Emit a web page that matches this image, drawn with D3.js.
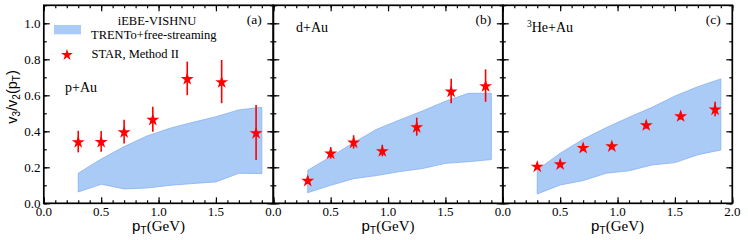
<!DOCTYPE html>
<html><head><meta charset="utf-8">
<script src="https://cdn.jsdelivr.net/npm/d3@7"></script>
<style>body{margin:0;background:#fff}svg{display:block}</style>
</head><body>
<svg id="c" width="748" height="240"></svg>
<script>
// ---- data ----
const ptStar = [0.3, 0.5, 0.7, 0.95, 1.25, 1.55, 1.85];
const pAuV   = [0.343, 0.344, 0.398, 0.467, 0.694, 0.676, 0.393];
const pAuErr = [0.060, 0.058, 0.066, 0.070, 0.093, 0.120, 0.153];
const dAuV   = [0.128, 0.280, 0.341, 0.293, 0.426, 0.624, 0.654];
const dAuErr = [0.020, 0.032, 0.037, 0.032, 0.050, 0.068, 0.090];
const heAuV  = [0.207, 0.220, 0.311, 0.320, 0.437, 0.487, 0.524];
const heAuErr= [0.015, 0.018, 0.020, 0.020, 0.022, 0.022, 0.040];

const ptBand = [0.3, 0.5, 0.7, 0.9, 1.1, 1.3, 1.5, 1.7, 1.9];
const pAuHi  = [0.167, 0.246, 0.315, 0.374, 0.417, 0.450, 0.481, 0.519, 0.533];
const pAuLo  = [0.063, 0.106, 0.080, 0.085, 0.100, 0.110, 0.119, 0.167, 0.165];
const dAuHi  = [0.183, 0.259, 0.337, 0.411, 0.463, 0.513, 0.567, 0.611, 0.611];
const dAuLo  = [0.059, 0.100, 0.137, 0.154, 0.176, 0.193, 0.222, 0.231, 0.243];
const heAuHi = [0.185, 0.278, 0.356, 0.420, 0.478, 0.533, 0.596, 0.648, 0.691];
const heAuLo = [0.052, 0.102, 0.126, 0.167, 0.181, 0.213, 0.226, 0.270, 0.296];

const xMajor = [0, 0.5, 1.0, 1.5, 2.0];
const yMajor = [0, 0.2, 0.4, 0.6, 0.8, 1.0];
const panelTags = ["(a)", "(b)", "(c)"];
const systems = ["p+Au", "d+Au", "He+Au"];
const legendLabels = ["iEBE-VISHNU", "TRENTo+free-streaming", "STAR, Method II"];

// ---- layout ----
const SERIF = "'Liberation Serif', 'Times New Roman', serif";
const SANS = "'Liberation Sans', Arial, sans-serif";
const bandFill = "#abcbf7", bandStroke = "#86b0f2", red = "#ff0000";
const svg = d3.select("#c");
const yTop = 5.3, yBot = 203.3, pw = 229.5;
const lefts = [43.8, 273.3, 502.8];
const y = d3.scaleLinear().domain([0, 1.1]).range([yBot, yTop]);

const panels = [
  {v: pAuV, e: pAuErr, hi: pAuHi, lo: pAuLo, xl: [0, 0.5, 1.0, 1.5]},
  {v: dAuV, e: dAuErr, hi: dAuHi, lo: dAuLo, xl: [0, 0.5, 1.0, 1.5]},
  {v: heAuV, e: heAuErr, hi: heAuHi, lo: heAuLo, xl: [0, 0.5, 1.0, 1.5, 2.0]}
];

const minorX = d3.range(0, 2.001, 0.1).map(d => +d.toFixed(1));
const minorY = d3.range(0, 1.101, 0.1).map(d => +d.toFixed(1));
const star = d3.symbol().type(d3.symbolStar).size(52);

panels.forEach((p, i) => {
  const L = lefts[i];
  const x = d3.scaleLinear().domain([0, 2]).range([L, L + pw]);
  const g = svg.append("g");

  // band
  const area = d3.area().x((d, j) => x(ptBand[j])).y0((d, j) => y(p.lo[j])).y1((d, j) => y(p.hi[j]));
  g.append("path").datum(ptBand).attr("d", area)
    .attr("fill", bandFill).attr("stroke", bandStroke).attr("stroke-width", 0.8);

  // error bars + stars
  ptStar.forEach((pt, j) => {
    g.append("line").attr("x1", x(pt)).attr("x2", x(pt))
      .attr("y1", y(p.v[j] - p.e[j])).attr("y2", y(p.v[j] + p.e[j]))
      .attr("stroke", red).attr("stroke-width", 1.6);
  });
  g.selectAll("path.star").data(ptStar).enter().append("path").attr("class", "star")
    .attr("d", star).attr("fill", red)
    .attr("transform", (d, j) => `translate(${x(d)},${y(p.v[j]) + 0.7})`);

  // ticks via axes
  const mk = (axis, tx, ty, vals, size) => {
    const a = g.append("g").attr("transform", `translate(${tx},${ty})`)
      .call(axis.tickValues(vals).tickSize(size).tickFormat(""));
    a.select(".domain").remove();
    a.selectAll("line").attr("stroke", "#000").attr("stroke-width", 1.2);
    return a;
  };
  mk(d3.axisBottom(x), 0, yBot, minorX, -3);
  mk(d3.axisBottom(x), 0, yBot, xMajor, -6);
  mk(d3.axisTop(x), 0, yTop, minorX, -3);
  mk(d3.axisTop(x), 0, yTop, xMajor, -6);
  mk(d3.axisLeft(y), L, 0, minorY, -3);
  mk(d3.axisLeft(y), L, 0, yMajor, -6);
  mk(d3.axisRight(y), L + pw, 0, minorY, -3);
  mk(d3.axisRight(y), L + pw, 0, yMajor, -6);

  // frame
  g.append("rect").attr("x", L).attr("y", yTop).attr("width", pw).attr("height", yBot - yTop)
    .attr("fill", "none").attr("stroke", "#000").attr("stroke-width", 1.7);

  // x tick labels
  g.selectAll("text.xt").data(p.xl).enter().append("text")
    .attr("x", d => x(d)).attr("y", 215.5).attr("text-anchor", "middle")
    .attr("font-family", SERIF).attr("font-size", 13).text(d => d.toFixed(1));

  // x title
  const t = g.append("text").attr("x", L + pw / 2).attr("y", 230.5).attr("text-anchor", "middle")
    .attr("font-size", 15);
  t.append("tspan").attr("font-family", SANS).text("p");
  t.append("tspan").attr("font-family", SANS).attr("font-size", 10.5).attr("dy", 3).text("T");
  t.append("tspan").attr("font-family", SERIF).attr("dy", -3).text("(GeV)");

  // panel tag
  g.append("text").attr("x", L + pw - 11.5).attr("y", 23.5).attr("text-anchor", "end")
    .attr("font-family", SERIF).attr("font-size", 13.5).text(panelTags[i]);
});

// y tick labels
svg.selectAll("text.yt").data(yMajor).enter().append("text")
  .attr("x", 40.5).attr("y", d => y(d) + 4.5).attr("text-anchor", "end")
  .attr("font-family", SERIF).attr("font-size", 13).text(d => d.toFixed(1));

// y title
const yt = svg.append("text").attr("transform", "translate(17,97) rotate(-90)")
  .attr("text-anchor", "middle").attr("font-family", SANS).attr("font-size", 14.5);
yt.append("tspan").text("v");
yt.append("tspan").attr("font-size", 10).attr("dy", 3).text("3");
yt.append("tspan").attr("dy", -3).text("/v");
yt.append("tspan").attr("font-size", 10).attr("dy", 3).text("2");
yt.append("tspan").attr("dy", -3).text("(p");
yt.append("tspan").attr("font-size", 10).attr("dy", 3).text("T");
yt.append("tspan").attr("dy", -3).text(")");

// system labels
svg.append("text").attr("x", 65).attr("y", 92).attr("font-family", SERIF).attr("font-size", 14).text(systems[0]);
svg.append("text").attr("x", 296).attr("y", 31.5).attr("font-family", SERIF).attr("font-size", 14).text(systems[1]);
const he = svg.append("text").attr("x", 527).attr("y", 31.5).attr("font-family", SERIF).attr("font-size", 14);
he.append("tspan").attr("font-size", 9.5).attr("dy", -5).text("3");
he.append("tspan").attr("dy", 5).text(systems[2]);

// legend
svg.append("rect").attr("x", 54).attr("y", 25).attr("width", 27).attr("height", 9.3).attr("fill", bandFill);
svg.append("text").attr("x", 157).attr("y", 25).attr("text-anchor", "middle")
  .attr("font-family", SERIF).attr("font-size", 12.5).text(legendLabels[0]);
svg.append("text").attr("x", 91).attr("y", 38.5)
  .attr("font-family", SERIF).attr("font-size", 12.5).text(legendLabels[1]);
svg.append("path").attr("d", d3.symbol().type(d3.symbolStar).size(42)).attr("fill", red)
  .attr("transform", "translate(67,55)");
svg.append("text").attr("x", 91.5).attr("y", 57.5)
  .attr("font-family", SERIF).attr("font-size", 12.5).text(legendLabels[2]);
</script>
</body></html>
